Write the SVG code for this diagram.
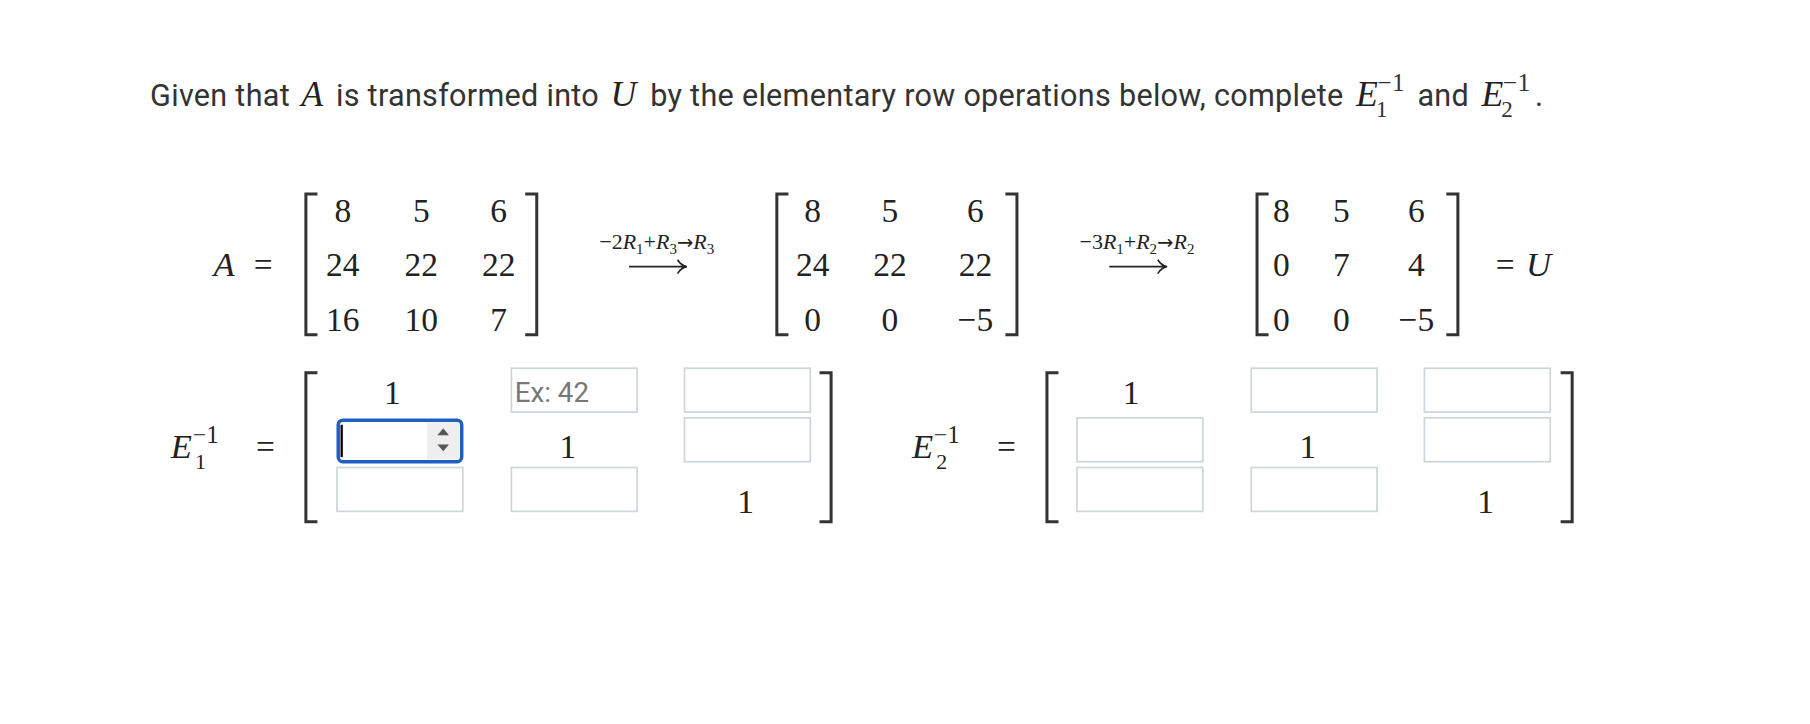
<svg xmlns="http://www.w3.org/2000/svg" width="1810" height="724" viewBox="0 0 1810 724">
<style>
.t{font-family:Roboto,"Liberation Sans",sans-serif;font-size:26.5px;fill:#333;letter-spacing:0.25px}
.m{font-family:"Liberation Serif","DejaVu Serif",serif;font-size:29px;fill:#222;text-anchor:middle}
.mi{font-family:"Liberation Serif","DejaVu Serif",serif;font-style:italic;fill:#222}
.s{font-family:"Liberation Serif","DejaVu Serif",serif;font-size:19px;fill:#222;text-anchor:middle}
.n{font-family:"Liberation Serif","DejaVu Serif",serif;fill:#222}
.br{fill:none;stroke:#333;stroke-width:2.6}
.ar{fill:none;stroke:#222;stroke-width:1.4}
.box{fill:#fff;stroke:#cfd6da;stroke-width:1.5}
</style>
<rect width="1810" height="724" fill="#fff"/>
<g transform="scale(1.1543)">
<g id="title">
<text class="t" x="130" y="92">Given that <tspan class="mi" font-size="31" dx="3">A</tspan><tspan dx="4"> is transformed into </tspan><tspan class="mi" font-size="31" dx="3">U</tspan><tspan dx="5"> by the elementary row operations below, complete </tspan><tspan class="mi" font-size="31" dx="4">E</tspan><tspan font-family="Liberation Serif" font-size="20" dx="-2" dy="9">1</tspan><tspan font-family="Liberation Serif" font-size="22" dx="-9" dy="-22">−1</tspan><tspan dx="4" dy="13"> and </tspan><tspan class="mi" font-size="31" dx="4">E</tspan><tspan font-family="Liberation Serif" font-size="20" dx="-2" dy="9">2</tspan><tspan font-family="Liberation Serif" font-size="22" dx="-9" dy="-22">−1</tspan><tspan dx="4" dy="13">.</tspan></text>
</g>
<g id="matrixA">
<text class="mi" x="185" y="239" font-size="30">A</text><text class="m" x="228" y="239">=</text>
<path class="br" d="M275,168 H265 V290 H275 M455,168 H465 V290 H455"/>
<text class="m" x="297" y="192">8</text><text class="m" x="365" y="192">5</text><text class="m" x="432" y="192">6</text>
<text class="m" x="297" y="239">24</text><text class="m" x="365" y="239">22</text><text class="m" x="432" y="239">22</text>
<text class="m" x="297" y="287">16</text><text class="m" x="365" y="287">10</text><text class="m" x="432" y="287">7</text>
</g>
<g id="op1">
<text class="s" x="569" y="216">−2<tspan font-style="italic">R</tspan><tspan font-size="13" dy="4">1</tspan><tspan dy="-4">+</tspan><tspan font-style="italic">R</tspan><tspan font-size="13" dy="4">3</tspan><tspan dy="-4" font-family="DejaVu Sans" font-size="17">→</tspan><tspan font-style="italic">R</tspan><tspan font-size="13" dy="4">3</tspan></text>
<path class="ar" d="M545,231 H594 M587,225 Q590,230 595,231 Q590,232 587,237"/>
</g>
<g id="matrixB">
<path class="br" d="M683,168 H673 V290 H683 M871,168 H881 V290 H871"/>
<text class="m" x="704" y="192">8</text><text class="m" x="771" y="192">5</text><text class="m" x="845" y="192">6</text>
<text class="m" x="704" y="239">24</text><text class="m" x="771" y="239">22</text><text class="m" x="845" y="239">22</text>
<text class="m" x="704" y="287">0</text><text class="m" x="771" y="287">0</text><text class="m" x="845" y="287">−5</text>
</g>
<g id="op2">
<text class="s" x="985" y="216">−3<tspan font-style="italic">R</tspan><tspan font-size="13" dy="4">1</tspan><tspan dy="-4">+</tspan><tspan font-style="italic">R</tspan><tspan font-size="13" dy="4">2</tspan><tspan dy="-4" font-family="DejaVu Sans" font-size="17">→</tspan><tspan font-style="italic">R</tspan><tspan font-size="13" dy="4">2</tspan></text>
<path class="ar" d="M961,231 H1010 M1003,225 Q1006,230 1011,231 Q1006,232 1003,237"/>
</g>
<g id="matrixU">
<path class="br" d="M1099,168 H1089 V290 H1099 M1253,168 H1263 V290 H1253"/>
<text class="m" x="1110" y="192">8</text><text class="m" x="1162" y="192">5</text><text class="m" x="1227" y="192">6</text>
<text class="m" x="1110" y="239">0</text><text class="m" x="1162" y="239">7</text><text class="m" x="1227" y="239">4</text>
<text class="m" x="1110" y="287">0</text><text class="m" x="1162" y="287">0</text><text class="m" x="1227" y="287">−5</text>
<text class="m" x="1304" y="239">=</text><text class="mi" x="1322" y="239" font-size="30">U</text>
</g>
<g id="E1">
<text class="mi" x="148" y="397" font-size="30">E</text><text class="n" x="169" y="406" font-size="19">1</text><text class="n" x="167" y="384" font-size="21">−1</text>
<text class="m" x="230" y="397">=</text>
<path class="br" d="M275,323 H265 V452 H275 M710,323 H720 V452 H710"/>
<text class="m" x="340" y="350">1</text><text class="m" x="492" y="397">1</text><text class="m" x="646" y="444">1</text>
<rect class="box" x="443" y="319" width="109" height="38"/>
<text x="446" y="348" font-family="Roboto,'Liberation Sans',sans-serif" font-size="24" fill="#777">Ex: 42</text>
<rect class="box" x="593" y="319" width="109" height="38"/>
<rect class="box" x="593" y="362" width="109" height="38"/>
<rect class="box" x="292" y="405" width="109" height="38"/>
<rect class="box" x="443" y="405" width="109" height="38"/>
<rect x="370" y="366" width="28" height="32" fill="#eee"/>
<rect x="293" y="364" width="107" height="36" rx="4" fill="none" stroke="#1f5fc4" stroke-width="3"/>
<line x1="296" y1="368" x2="296" y2="396" stroke="#000" stroke-width="2"/>
<path d="M379,377 L384,371 L389,377 Z M379,385 L384,391 L389,385 Z" fill="#555"/>
</g>
<g id="E2">
<text class="mi" x="790" y="397" font-size="30">E</text><text class="n" x="811" y="406" font-size="19">2</text><text class="n" x="809" y="384" font-size="21">−1</text>
<text class="m" x="872" y="397">=</text>
<path class="br" d="M917,323 H907 V452 H917 M1352,323 H1362 V452 H1352"/>
<text class="m" x="980" y="350">1</text><text class="m" x="1133" y="397">1</text><text class="m" x="1287" y="444">1</text>
<rect class="box" x="1084" y="319" width="109" height="38"/>
<rect class="box" x="1234" y="319" width="109" height="38"/>
<rect class="box" x="933" y="362" width="109" height="38"/>
<rect class="box" x="1234" y="362" width="109" height="38"/>
<rect class="box" x="933" y="405" width="109" height="38"/>
<rect class="box" x="1084" y="405" width="109" height="38"/>
</g>
</g>
</svg>
